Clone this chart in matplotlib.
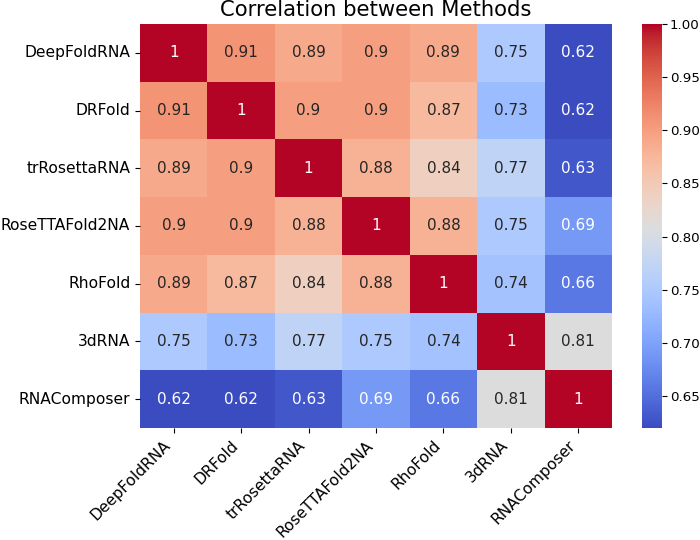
import numpy as np
import pandas as pd
import matplotlib
matplotlib.use("Agg")
import matplotlib.pyplot as plt
import seaborn as sns

methods = ["DeepFoldRNA", "DRFold", "trRosettaRNA", "RoseTTAFold2NA",
           "RhoFold", "3dRNA", "RNAComposer"]

deepfoldrna = [1, 0.91, 0.89, 0.9, 0.89, 0.75, 0.62]
drfold = [0.91, 1, 0.9, 0.9, 0.87, 0.73, 0.62]
trrosettarna = [0.89, 0.9, 1, 0.88, 0.84, 0.77, 0.63]
rosettafold2na = [0.9, 0.9, 0.88, 1, 0.88, 0.75, 0.69]
rhofold = [0.89, 0.87, 0.84, 0.88, 1, 0.74, 0.66]
rna3d = [0.75, 0.73, 0.77, 0.75, 0.74, 1, 0.81]
rnacomposer = [0.62, 0.62, 0.63, 0.69, 0.66, 0.81, 1]

corr = pd.DataFrame([deepfoldrna, drfold, trrosettarna, rosettafold2na,
                     rhofold, rna3d, rnacomposer],
                    index=methods, columns=methods)

W, H = 700, 540
fig = plt.figure(figsize=(7, 5.4), dpi=100)
ax = fig.add_axes([140 / W, 1 - 428 / H, 472 / W, 404 / H])
cax = fig.add_axes([642 / W, 1 - 428 / H, 20 / W, 404 / H])

sns.heatmap(corr, annot=True, cmap="coolwarm", annot_kws={"size": 11},
            ax=ax, cbar_ax=cax)
ax.set_title("Correlation between Methods", fontsize=15.2)
ax.tick_params(axis="both", labelsize=11.2)
plt.setp(ax.get_xticklabels(), rotation=45, ha="right", rotation_mode="default")
plt.setp(ax.get_yticklabels(), rotation=0)
cax.tick_params(labelsize=9.6, pad=2)

plt.savefig("out.png")
